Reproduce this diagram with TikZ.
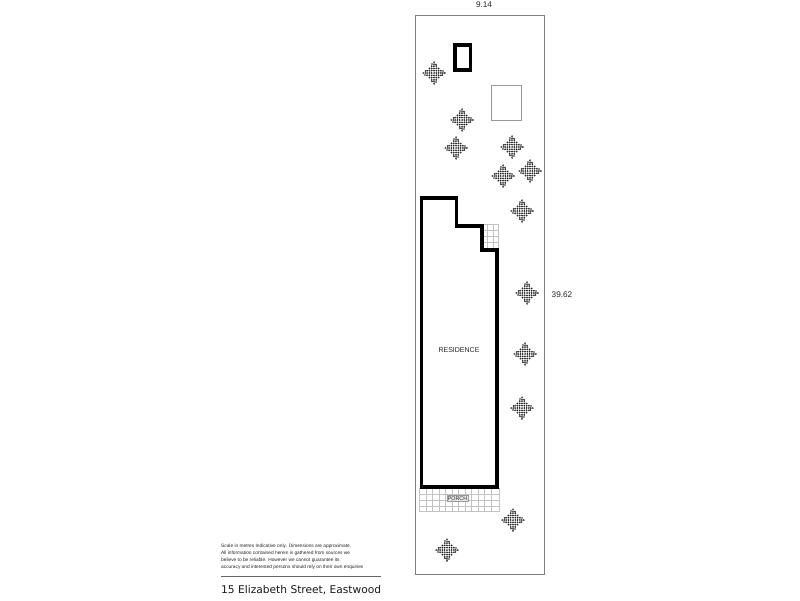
\documentclass[tikz,border=0pt]{standalone}
\usepackage{fontspec}
\setmainfont{Liberation Sans}
\newfontfamily\titlefont{DejaVu Sans}
\tikzset{
  x=1pt,y=-1pt,
  gridline/.style={draw=black!24,line width=0.5pt},
  boundary/.style={draw=black!50,line width=1pt},
  wall/.style={draw=black,line width=3.6pt,miter limit=4},
  label/.style={inner sep=0pt,text=black!85,font=\fontsize{8.2}{10}\selectfont},
  tree/.pic={
    \foreach \i in {-3,...,3}{
      \foreach \j in {-3,...,3}{
        \pgfmathtruncatemacro{\dist}{abs(\i)+abs(\j)}
        \ifnum\dist<5
          \fill[black!85] (2.3*\i,2.3*\j) circle (1.0);
        \fi
      }
    }
    \foreach \a/\b in {0/-10.8,0/-8.8,0/8.8,0/10.8,-10.8/0,-8.8/0,8.8/0,10.8/0,-2/-9,2/9,-9/2,9/-2,2/-8.5,-2/8.5,-8.5/-2,8.5/2}
      \fill[black!85] (\a,\b) circle (0.95);
    \foreach \a/\b in {-1.1/-1.1,1.1/1.1,-1.1/3.4,3.4/-1.1,-3.4/1.1,1.1/-3.4,-5.7/-1.1,5.7/1.1,-1.1/5.7,1.1/-5.7,3.4/3.4,-3.4/-3.4,-3.4/3.4,3.4/-3.4}
      \fill[white] (\a,\b) circle (0.7);
  }
}
\begin{document}
\begin{tikzpicture}
\useasboundingbox (0,0) rectangle (800,600);
\fill[white] (0,0) rectangle (800,600);
% boundary
\draw[boundary] (415.5,15.5) rectangle (544.5,574);
% porch and rear grids
\draw[gridline] (419.5,488) rectangle (499,511);
\foreach \x in {426,432.5,439,445.5,452,458.5,465,471.5,478,484.5,491}
  \draw[gridline] (\x,488) -- (\x,511);
\foreach \y in {494,500,506}
  \draw[gridline] (419.5,\y) -- (499,\y);
\draw[gridline] (482,224.5) rectangle (498.5,249);
\foreach \x in {487.5,493}
  \draw[gridline] (\x,224.5) -- (\x,249);
\foreach \y in {230,236,242}
  \draw[gridline] (482,\y) -- (498.5,\y);
% buildings
\draw[wall] (421.5,198) -- (456.5,198) -- (456.5,226) -- (482,226) -- (482,250) -- (497,250) -- (497,487) -- (421.5,487) -- cycle;
\draw[wall] (455,45) rectangle (470.5,70);
\draw[boundary,draw=black!40] (491.5,85) rectangle (521,120);
% trees
\foreach \p/\q in {434/73,462/120,456/148,512/147,503/176,530/171,522/211,527/293,525/354,522/408,513/520,447/550}
  \pic at (\p,\q) {tree};
% labels
\node[label] (width) at (484,5) {9.14};
\node[label] (depth) at (562,295) {39.62};
\node[label,font=\fontsize{7}{9}\selectfont] (res) at (459,350) {RESIDENCE};
\node[draw=black!40,fill=black!10,line width=0.5pt,inner xsep=1pt,inner ysep=1pt,text=black!80,font=\fontsize{5.4}{6}\selectfont] (porch) at (457.5,498.5) {PORCH};
% title block
\node[anchor=north west,inner sep=0pt,align=left,text=black!85,font=\fontsize{4.8}{7.05}\selectfont] (note) at (221,544) {Scale in metres Indicative only. Dimensions are approximate.\\All information contained herein is gathered from sources we\\believe to be reliable. However we cannot guarantee its\\accuracy and interested persons should rely on their own enquiries};
\draw[black!60,line width=0.9pt] (221,576) -- (380.5,576);
\node[anchor=west,inner sep=0pt,text=black!90,font=\titlefont\fontsize{10.65}{13}\selectfont] (title) at (221,590) {15 Elizabeth Street, Eastwood};
\end{tikzpicture}
\end{document}
